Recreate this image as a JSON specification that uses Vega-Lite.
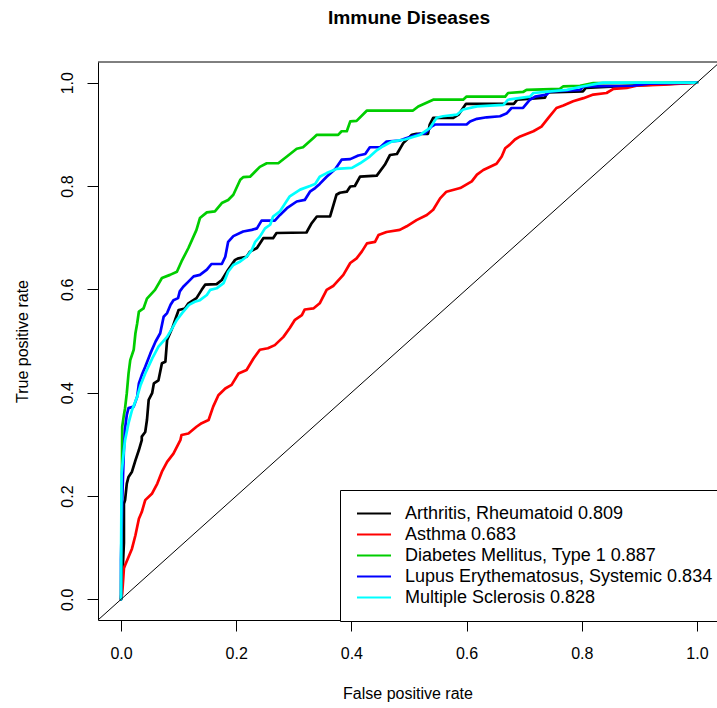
{
  "$schema": "https://vega.github.io/schema/vega-lite/v6.json",
  "autosize": {"type": "none"},
  "width": 619,
  "height": 558,
  "padding": {"left": 98, "top": 62, "right": 0, "bottom": 88},
  "background": "white",
  "config": {
    "view": {"stroke": null},
    "font": "Liberation Sans"
  },
  "title": {"text": "Immune Diseases", "fontSize": 19.2, "fontWeight": "bold", "font": "Liberation Sans", "color": "black", "anchor": "middle", "offset": 33, "dx": 1.5},
  "layer": [
    {
      "data": {"values": [
        {"disease":"Arthritis, Rheumatoid 0.809","fpr":0,"tpr":0},{"disease":"Arthritis, Rheumatoid 0.809","fpr":0.002,"tpr":0.037},{"disease":"Arthritis, Rheumatoid 0.809","fpr":0.005,"tpr":0.109},{"disease":"Arthritis, Rheumatoid 0.809","fpr":0.005,"tpr":0.185},{"disease":"Arthritis, Rheumatoid 0.809","fpr":0.007,"tpr":0.192},{"disease":"Arthritis, Rheumatoid 0.809","fpr":0.010,"tpr":0.224},{"disease":"Arthritis, Rheumatoid 0.809","fpr":0.013,"tpr":0.237},{"disease":"Arthritis, Rheumatoid 0.809","fpr":0.019,"tpr":0.247},{"disease":"Arthritis, Rheumatoid 0.809","fpr":0.025,"tpr":0.269},{"disease":"Arthritis, Rheumatoid 0.809","fpr":0.031,"tpr":0.289},{"disease":"Arthritis, Rheumatoid 0.809","fpr":0.036,"tpr":0.308},{"disease":"Arthritis, Rheumatoid 0.809","fpr":0.036,"tpr":0.315},{"disease":"Arthritis, Rheumatoid 0.809","fpr":0.042,"tpr":0.324},{"disease":"Arthritis, Rheumatoid 0.809","fpr":0.045,"tpr":0.347},{"disease":"Arthritis, Rheumatoid 0.809","fpr":0.048,"tpr":0.386},{"disease":"Arthritis, Rheumatoid 0.809","fpr":0.054,"tpr":0.399},{"disease":"Arthritis, Rheumatoid 0.809","fpr":0.057,"tpr":0.418},{"disease":"Arthritis, Rheumatoid 0.809","fpr":0.065,"tpr":0.424},{"disease":"Arthritis, Rheumatoid 0.809","fpr":0.071,"tpr":0.457},{"disease":"Arthritis, Rheumatoid 0.809","fpr":0.077,"tpr":0.460},{"disease":"Arthritis, Rheumatoid 0.809","fpr":0.080,"tpr":0.502},{"disease":"Arthritis, Rheumatoid 0.809","fpr":0.089,"tpr":0.525},{"disease":"Arthritis, Rheumatoid 0.809","fpr":0.094,"tpr":0.541},{"disease":"Arthritis, Rheumatoid 0.809","fpr":0.100,"tpr":0.560},{"disease":"Arthritis, Rheumatoid 0.809","fpr":0.111,"tpr":0.563},{"disease":"Arthritis, Rheumatoid 0.809","fpr":0.117,"tpr":0.573},{"disease":"Arthritis, Rheumatoid 0.809","fpr":0.131,"tpr":0.583},{"disease":"Arthritis, Rheumatoid 0.809","fpr":0.140,"tpr":0.599},{"disease":"Arthritis, Rheumatoid 0.809","fpr":0.146,"tpr":0.609},{"disease":"Arthritis, Rheumatoid 0.809","fpr":0.166,"tpr":0.610},{"disease":"Arthritis, Rheumatoid 0.809","fpr":0.175,"tpr":0.618},{"disease":"Arthritis, Rheumatoid 0.809","fpr":0.186,"tpr":0.638},{"disease":"Arthritis, Rheumatoid 0.809","fpr":0.198,"tpr":0.657},{"disease":"Arthritis, Rheumatoid 0.809","fpr":0.204,"tpr":0.660},{"disease":"Arthritis, Rheumatoid 0.809","fpr":0.218,"tpr":0.663},{"disease":"Arthritis, Rheumatoid 0.809","fpr":0.224,"tpr":0.673},{"disease":"Arthritis, Rheumatoid 0.809","fpr":0.236,"tpr":0.680},{"disease":"Arthritis, Rheumatoid 0.809","fpr":0.247,"tpr":0.699},{"disease":"Arthritis, Rheumatoid 0.809","fpr":0.264,"tpr":0.699},{"disease":"Arthritis, Rheumatoid 0.809","fpr":0.270,"tpr":0.709},{"disease":"Arthritis, Rheumatoid 0.809","fpr":0.322,"tpr":0.710},{"disease":"Arthritis, Rheumatoid 0.809","fpr":0.331,"tpr":0.728},{"disease":"Arthritis, Rheumatoid 0.809","fpr":0.340,"tpr":0.741},{"disease":"Arthritis, Rheumatoid 0.809","fpr":0.363,"tpr":0.741},{"disease":"Arthritis, Rheumatoid 0.809","fpr":0.374,"tpr":0.783},{"disease":"Arthritis, Rheumatoid 0.809","fpr":0.380,"tpr":0.787},{"disease":"Arthritis, Rheumatoid 0.809","fpr":0.392,"tpr":0.789},{"disease":"Arthritis, Rheumatoid 0.809","fpr":0.398,"tpr":0.799},{"disease":"Arthritis, Rheumatoid 0.809","fpr":0.406,"tpr":0.800},{"disease":"Arthritis, Rheumatoid 0.809","fpr":0.415,"tpr":0.818},{"disease":"Arthritis, Rheumatoid 0.809","fpr":0.444,"tpr":0.820},{"disease":"Arthritis, Rheumatoid 0.809","fpr":0.458,"tpr":0.841},{"disease":"Arthritis, Rheumatoid 0.809","fpr":0.467,"tpr":0.860},{"disease":"Arthritis, Rheumatoid 0.809","fpr":0.479,"tpr":0.862},{"disease":"Arthritis, Rheumatoid 0.809","fpr":0.490,"tpr":0.883},{"disease":"Arthritis, Rheumatoid 0.809","fpr":0.505,"tpr":0.899},{"disease":"Arthritis, Rheumatoid 0.809","fpr":0.513,"tpr":0.901},{"disease":"Arthritis, Rheumatoid 0.809","fpr":0.533,"tpr":0.901},{"disease":"Arthritis, Rheumatoid 0.809","fpr":0.536,"tpr":0.919},{"disease":"Arthritis, Rheumatoid 0.809","fpr":0.542,"tpr":0.932},{"disease":"Arthritis, Rheumatoid 0.809","fpr":0.577,"tpr":0.932},{"disease":"Arthritis, Rheumatoid 0.809","fpr":0.586,"tpr":0.938},{"disease":"Arthritis, Rheumatoid 0.809","fpr":0.599,"tpr":0.959},{"disease":"Arthritis, Rheumatoid 0.809","fpr":0.682,"tpr":0.959},{"disease":"Arthritis, Rheumatoid 0.809","fpr":0.688,"tpr":0.967},{"disease":"Arthritis, Rheumatoid 0.809","fpr":0.736,"tpr":0.971},{"disease":"Arthritis, Rheumatoid 0.809","fpr":0.740,"tpr":0.981},{"disease":"Arthritis, Rheumatoid 0.809","fpr":0.802,"tpr":0.983},{"disease":"Arthritis, Rheumatoid 0.809","fpr":0.807,"tpr":0.990},{"disease":"Arthritis, Rheumatoid 0.809","fpr":0.884,"tpr":0.994},{"disease":"Arthritis, Rheumatoid 0.809","fpr":1,"tpr":1},
        {"disease":"Asthma 0.683","fpr":0,"tpr":0},{"disease":"Asthma 0.683","fpr":0.002,"tpr":0.011},{"disease":"Asthma 0.683","fpr":0.004,"tpr":0.043},{"disease":"Asthma 0.683","fpr":0.005,"tpr":0.060},{"disease":"Asthma 0.683","fpr":0.007,"tpr":0.066},{"disease":"Asthma 0.683","fpr":0.013,"tpr":0.082},{"disease":"Asthma 0.683","fpr":0.019,"tpr":0.098},{"disease":"Asthma 0.683","fpr":0.025,"tpr":0.124},{"disease":"Asthma 0.683","fpr":0.031,"tpr":0.156},{"disease":"Asthma 0.683","fpr":0.036,"tpr":0.169},{"disease":"Asthma 0.683","fpr":0.042,"tpr":0.192},{"disease":"Asthma 0.683","fpr":0.054,"tpr":0.205},{"disease":"Asthma 0.683","fpr":0.063,"tpr":0.224},{"disease":"Asthma 0.683","fpr":0.071,"tpr":0.247},{"disease":"Asthma 0.683","fpr":0.080,"tpr":0.266},{"disease":"Asthma 0.683","fpr":0.091,"tpr":0.282},{"disease":"Asthma 0.683","fpr":0.103,"tpr":0.308},{"disease":"Asthma 0.683","fpr":0.105,"tpr":0.318},{"disease":"Asthma 0.683","fpr":0.117,"tpr":0.321},{"disease":"Asthma 0.683","fpr":0.131,"tpr":0.334},{"disease":"Asthma 0.683","fpr":0.140,"tpr":0.341},{"disease":"Asthma 0.683","fpr":0.152,"tpr":0.347},{"disease":"Asthma 0.683","fpr":0.160,"tpr":0.373},{"disease":"Asthma 0.683","fpr":0.169,"tpr":0.395},{"disease":"Asthma 0.683","fpr":0.181,"tpr":0.408},{"disease":"Asthma 0.683","fpr":0.192,"tpr":0.415},{"disease":"Asthma 0.683","fpr":0.204,"tpr":0.437},{"disease":"Asthma 0.683","fpr":0.218,"tpr":0.444},{"disease":"Asthma 0.683","fpr":0.230,"tpr":0.466},{"disease":"Asthma 0.683","fpr":0.241,"tpr":0.483},{"disease":"Asthma 0.683","fpr":0.255,"tpr":0.486},{"disease":"Asthma 0.683","fpr":0.267,"tpr":0.492},{"disease":"Asthma 0.683","fpr":0.282,"tpr":0.508},{"disease":"Asthma 0.683","fpr":0.293,"tpr":0.525},{"disease":"Asthma 0.683","fpr":0.302,"tpr":0.541},{"disease":"Asthma 0.683","fpr":0.314,"tpr":0.550},{"disease":"Asthma 0.683","fpr":0.319,"tpr":0.561},{"disease":"Asthma 0.683","fpr":0.334,"tpr":0.563},{"disease":"Asthma 0.683","fpr":0.345,"tpr":0.573},{"disease":"Asthma 0.683","fpr":0.357,"tpr":0.599},{"disease":"Asthma 0.683","fpr":0.369,"tpr":0.607},{"disease":"Asthma 0.683","fpr":0.386,"tpr":0.628},{"disease":"Asthma 0.683","fpr":0.398,"tpr":0.651},{"disease":"Asthma 0.683","fpr":0.409,"tpr":0.660},{"disease":"Asthma 0.683","fpr":0.418,"tpr":0.673},{"disease":"Asthma 0.683","fpr":0.427,"tpr":0.689},{"disease":"Asthma 0.683","fpr":0.441,"tpr":0.692},{"disease":"Asthma 0.683","fpr":0.447,"tpr":0.705},{"disease":"Asthma 0.683","fpr":0.461,"tpr":0.711},{"disease":"Asthma 0.683","fpr":0.484,"tpr":0.715},{"disease":"Asthma 0.683","fpr":0.496,"tpr":0.722},{"disease":"Asthma 0.683","fpr":0.513,"tpr":0.734},{"disease":"Asthma 0.683","fpr":0.531,"tpr":0.744},{"disease":"Asthma 0.683","fpr":0.542,"tpr":0.754},{"disease":"Asthma 0.683","fpr":0.554,"tpr":0.776},{"disease":"Asthma 0.683","fpr":0.565,"tpr":0.789},{"disease":"Asthma 0.683","fpr":0.589,"tpr":0.796},{"disease":"Asthma 0.683","fpr":0.609,"tpr":0.809},{"disease":"Asthma 0.683","fpr":0.618,"tpr":0.822},{"disease":"Asthma 0.683","fpr":0.629,"tpr":0.831},{"disease":"Asthma 0.683","fpr":0.652,"tpr":0.843},{"disease":"Asthma 0.683","fpr":0.661,"tpr":0.857},{"disease":"Asthma 0.683","fpr":0.667,"tpr":0.873},{"disease":"Asthma 0.683","fpr":0.675,"tpr":0.880},{"disease":"Asthma 0.683","fpr":0.684,"tpr":0.890},{"disease":"Asthma 0.683","fpr":0.693,"tpr":0.896},{"disease":"Asthma 0.683","fpr":0.716,"tpr":0.906},{"disease":"Asthma 0.683","fpr":0.730,"tpr":0.915},{"disease":"Asthma 0.683","fpr":0.742,"tpr":0.932},{"disease":"Asthma 0.683","fpr":0.756,"tpr":0.951},{"disease":"Asthma 0.683","fpr":0.768,"tpr":0.956},{"disease":"Asthma 0.683","fpr":0.785,"tpr":0.964},{"disease":"Asthma 0.683","fpr":0.803,"tpr":0.970},{"disease":"Asthma 0.683","fpr":0.820,"tpr":0.977},{"disease":"Asthma 0.683","fpr":0.843,"tpr":0.980},{"disease":"Asthma 0.683","fpr":0.855,"tpr":0.988},{"disease":"Asthma 0.683","fpr":0.878,"tpr":0.990},{"disease":"Asthma 0.683","fpr":0.895,"tpr":0.994},{"disease":"Asthma 0.683","fpr":0.942,"tpr":0.996},{"disease":"Asthma 0.683","fpr":1,"tpr":1},
        {"disease":"Diabetes Mellitus, Type 1 0.887","fpr":0,"tpr":0},{"disease":"Diabetes Mellitus, Type 1 0.887","fpr":0.001,"tpr":0.114},{"disease":"Diabetes Mellitus, Type 1 0.887","fpr":0.002,"tpr":0.334},{"disease":"Diabetes Mellitus, Type 1 0.887","fpr":0.005,"tpr":0.357},{"disease":"Diabetes Mellitus, Type 1 0.887","fpr":0.007,"tpr":0.370},{"disease":"Diabetes Mellitus, Type 1 0.887","fpr":0.010,"tpr":0.399},{"disease":"Diabetes Mellitus, Type 1 0.887","fpr":0.013,"tpr":0.437},{"disease":"Diabetes Mellitus, Type 1 0.887","fpr":0.016,"tpr":0.463},{"disease":"Diabetes Mellitus, Type 1 0.887","fpr":0.022,"tpr":0.483},{"disease":"Diabetes Mellitus, Type 1 0.887","fpr":0.025,"tpr":0.515},{"disease":"Diabetes Mellitus, Type 1 0.887","fpr":0.028,"tpr":0.534},{"disease":"Diabetes Mellitus, Type 1 0.887","fpr":0.031,"tpr":0.557},{"disease":"Diabetes Mellitus, Type 1 0.887","fpr":0.039,"tpr":0.563},{"disease":"Diabetes Mellitus, Type 1 0.887","fpr":0.045,"tpr":0.582},{"disease":"Diabetes Mellitus, Type 1 0.887","fpr":0.059,"tpr":0.599},{"disease":"Diabetes Mellitus, Type 1 0.887","fpr":0.071,"tpr":0.622},{"disease":"Diabetes Mellitus, Type 1 0.887","fpr":0.085,"tpr":0.628},{"disease":"Diabetes Mellitus, Type 1 0.887","fpr":0.097,"tpr":0.634},{"disease":"Diabetes Mellitus, Type 1 0.887","fpr":0.105,"tpr":0.654},{"disease":"Diabetes Mellitus, Type 1 0.887","fpr":0.117,"tpr":0.680},{"disease":"Diabetes Mellitus, Type 1 0.887","fpr":0.131,"tpr":0.715},{"disease":"Diabetes Mellitus, Type 1 0.887","fpr":0.137,"tpr":0.738},{"disease":"Diabetes Mellitus, Type 1 0.887","fpr":0.149,"tpr":0.749},{"disease":"Diabetes Mellitus, Type 1 0.887","fpr":0.163,"tpr":0.751},{"disease":"Diabetes Mellitus, Type 1 0.887","fpr":0.175,"tpr":0.767},{"disease":"Diabetes Mellitus, Type 1 0.887","fpr":0.186,"tpr":0.773},{"disease":"Diabetes Mellitus, Type 1 0.887","fpr":0.195,"tpr":0.783},{"disease":"Diabetes Mellitus, Type 1 0.887","fpr":0.207,"tpr":0.812},{"disease":"Diabetes Mellitus, Type 1 0.887","fpr":0.212,"tpr":0.817},{"disease":"Diabetes Mellitus, Type 1 0.887","fpr":0.224,"tpr":0.818},{"disease":"Diabetes Mellitus, Type 1 0.887","fpr":0.241,"tpr":0.837},{"disease":"Diabetes Mellitus, Type 1 0.887","fpr":0.253,"tpr":0.844},{"disease":"Diabetes Mellitus, Type 1 0.887","fpr":0.273,"tpr":0.844},{"disease":"Diabetes Mellitus, Type 1 0.887","fpr":0.288,"tpr":0.857},{"disease":"Diabetes Mellitus, Type 1 0.887","fpr":0.305,"tpr":0.872},{"disease":"Diabetes Mellitus, Type 1 0.887","fpr":0.316,"tpr":0.875},{"disease":"Diabetes Mellitus, Type 1 0.887","fpr":0.334,"tpr":0.893},{"disease":"Diabetes Mellitus, Type 1 0.887","fpr":0.340,"tpr":0.899},{"disease":"Diabetes Mellitus, Type 1 0.887","fpr":0.377,"tpr":0.899},{"disease":"Diabetes Mellitus, Type 1 0.887","fpr":0.383,"tpr":0.906},{"disease":"Diabetes Mellitus, Type 1 0.887","fpr":0.392,"tpr":0.906},{"disease":"Diabetes Mellitus, Type 1 0.887","fpr":0.398,"tpr":0.925},{"disease":"Diabetes Mellitus, Type 1 0.887","fpr":0.409,"tpr":0.926},{"disease":"Diabetes Mellitus, Type 1 0.887","fpr":0.427,"tpr":0.946},{"disease":"Diabetes Mellitus, Type 1 0.887","fpr":0.507,"tpr":0.946},{"disease":"Diabetes Mellitus, Type 1 0.887","fpr":0.516,"tpr":0.954},{"disease":"Diabetes Mellitus, Type 1 0.887","fpr":0.542,"tpr":0.967},{"disease":"Diabetes Mellitus, Type 1 0.887","fpr":0.594,"tpr":0.967},{"disease":"Diabetes Mellitus, Type 1 0.887","fpr":0.600,"tpr":0.973},{"disease":"Diabetes Mellitus, Type 1 0.887","fpr":0.667,"tpr":0.973},{"disease":"Diabetes Mellitus, Type 1 0.887","fpr":0.672,"tpr":0.980},{"disease":"Diabetes Mellitus, Type 1 0.887","fpr":0.698,"tpr":0.982},{"disease":"Diabetes Mellitus, Type 1 0.887","fpr":0.704,"tpr":0.986},{"disease":"Diabetes Mellitus, Type 1 0.887","fpr":0.762,"tpr":0.988},{"disease":"Diabetes Mellitus, Type 1 0.887","fpr":0.768,"tpr":0.993},{"disease":"Diabetes Mellitus, Type 1 0.887","fpr":0.797,"tpr":0.994},{"disease":"Diabetes Mellitus, Type 1 0.887","fpr":0.820,"tpr":0.999},{"disease":"Diabetes Mellitus, Type 1 0.887","fpr":1,"tpr":1},
        {"disease":"Lupus Erythematosus, Systemic 0.834","fpr":0,"tpr":0},{"disease":"Lupus Erythematosus, Systemic 0.834","fpr":0,"tpr":0.076},{"disease":"Lupus Erythematosus, Systemic 0.834","fpr":0.002,"tpr":0.192},{"disease":"Lupus Erythematosus, Systemic 0.834","fpr":0.005,"tpr":0.289},{"disease":"Lupus Erythematosus, Systemic 0.834","fpr":0.007,"tpr":0.331},{"disease":"Lupus Erythematosus, Systemic 0.834","fpr":0.010,"tpr":0.357},{"disease":"Lupus Erythematosus, Systemic 0.834","fpr":0.013,"tpr":0.370},{"disease":"Lupus Erythematosus, Systemic 0.834","fpr":0.022,"tpr":0.373},{"disease":"Lupus Erythematosus, Systemic 0.834","fpr":0.028,"tpr":0.392},{"disease":"Lupus Erythematosus, Systemic 0.834","fpr":0.031,"tpr":0.418},{"disease":"Lupus Erythematosus, Systemic 0.834","fpr":0.036,"tpr":0.434},{"disease":"Lupus Erythematosus, Systemic 0.834","fpr":0.042,"tpr":0.450},{"disease":"Lupus Erythematosus, Systemic 0.834","fpr":0.051,"tpr":0.476},{"disease":"Lupus Erythematosus, Systemic 0.834","fpr":0.060,"tpr":0.499},{"disease":"Lupus Erythematosus, Systemic 0.834","fpr":0.068,"tpr":0.515},{"disease":"Lupus Erythematosus, Systemic 0.834","fpr":0.074,"tpr":0.547},{"disease":"Lupus Erythematosus, Systemic 0.834","fpr":0.080,"tpr":0.554},{"disease":"Lupus Erythematosus, Systemic 0.834","fpr":0.086,"tpr":0.570},{"disease":"Lupus Erythematosus, Systemic 0.834","fpr":0.091,"tpr":0.579},{"disease":"Lupus Erythematosus, Systemic 0.834","fpr":0.099,"tpr":0.583},{"disease":"Lupus Erythematosus, Systemic 0.834","fpr":0.102,"tpr":0.596},{"disease":"Lupus Erythematosus, Systemic 0.834","fpr":0.108,"tpr":0.605},{"disease":"Lupus Erythematosus, Systemic 0.834","fpr":0.117,"tpr":0.615},{"disease":"Lupus Erythematosus, Systemic 0.834","fpr":0.126,"tpr":0.625},{"disease":"Lupus Erythematosus, Systemic 0.834","fpr":0.137,"tpr":0.628},{"disease":"Lupus Erythematosus, Systemic 0.834","fpr":0.149,"tpr":0.638},{"disease":"Lupus Erythematosus, Systemic 0.834","fpr":0.157,"tpr":0.649},{"disease":"Lupus Erythematosus, Systemic 0.834","fpr":0.175,"tpr":0.649},{"disease":"Lupus Erythematosus, Systemic 0.834","fpr":0.181,"tpr":0.663},{"disease":"Lupus Erythematosus, Systemic 0.834","fpr":0.186,"tpr":0.692},{"disease":"Lupus Erythematosus, Systemic 0.834","fpr":0.195,"tpr":0.703},{"disease":"Lupus Erythematosus, Systemic 0.834","fpr":0.212,"tpr":0.712},{"disease":"Lupus Erythematosus, Systemic 0.834","fpr":0.227,"tpr":0.715},{"disease":"Lupus Erythematosus, Systemic 0.834","fpr":0.236,"tpr":0.718},{"disease":"Lupus Erythematosus, Systemic 0.834","fpr":0.244,"tpr":0.733},{"disease":"Lupus Erythematosus, Systemic 0.834","fpr":0.267,"tpr":0.733},{"disease":"Lupus Erythematosus, Systemic 0.834","fpr":0.276,"tpr":0.744},{"disease":"Lupus Erythematosus, Systemic 0.834","fpr":0.288,"tpr":0.757},{"disease":"Lupus Erythematosus, Systemic 0.834","fpr":0.305,"tpr":0.770},{"disease":"Lupus Erythematosus, Systemic 0.834","fpr":0.319,"tpr":0.773},{"disease":"Lupus Erythematosus, Systemic 0.834","fpr":0.328,"tpr":0.789},{"disease":"Lupus Erythematosus, Systemic 0.834","fpr":0.337,"tpr":0.796},{"disease":"Lupus Erythematosus, Systemic 0.834","fpr":0.345,"tpr":0.804},{"disease":"Lupus Erythematosus, Systemic 0.834","fpr":0.357,"tpr":0.818},{"disease":"Lupus Erythematosus, Systemic 0.834","fpr":0.372,"tpr":0.833},{"disease":"Lupus Erythematosus, Systemic 0.834","fpr":0.383,"tpr":0.851},{"disease":"Lupus Erythematosus, Systemic 0.834","fpr":0.398,"tpr":0.852},{"disease":"Lupus Erythematosus, Systemic 0.834","fpr":0.412,"tpr":0.859},{"disease":"Lupus Erythematosus, Systemic 0.834","fpr":0.424,"tpr":0.862},{"disease":"Lupus Erythematosus, Systemic 0.834","fpr":0.432,"tpr":0.875},{"disease":"Lupus Erythematosus, Systemic 0.834","fpr":0.450,"tpr":0.875},{"disease":"Lupus Erythematosus, Systemic 0.834","fpr":0.461,"tpr":0.886},{"disease":"Lupus Erythematosus, Systemic 0.834","fpr":0.484,"tpr":0.888},{"disease":"Lupus Erythematosus, Systemic 0.834","fpr":0.496,"tpr":0.893},{"disease":"Lupus Erythematosus, Systemic 0.834","fpr":0.519,"tpr":0.901},{"disease":"Lupus Erythematosus, Systemic 0.834","fpr":0.528,"tpr":0.902},{"disease":"Lupus Erythematosus, Systemic 0.834","fpr":0.539,"tpr":0.915},{"disease":"Lupus Erythematosus, Systemic 0.834","fpr":0.545,"tpr":0.919},{"disease":"Lupus Erythematosus, Systemic 0.834","fpr":0.600,"tpr":0.919},{"disease":"Lupus Erythematosus, Systemic 0.834","fpr":0.606,"tpr":0.925},{"disease":"Lupus Erythematosus, Systemic 0.834","fpr":0.618,"tpr":0.930},{"disease":"Lupus Erythematosus, Systemic 0.834","fpr":0.635,"tpr":0.933},{"disease":"Lupus Erythematosus, Systemic 0.834","fpr":0.658,"tpr":0.935},{"disease":"Lupus Erythematosus, Systemic 0.834","fpr":0.670,"tpr":0.941},{"disease":"Lupus Erythematosus, Systemic 0.834","fpr":0.678,"tpr":0.951},{"disease":"Lupus Erythematosus, Systemic 0.834","fpr":0.698,"tpr":0.951},{"disease":"Lupus Erythematosus, Systemic 0.834","fpr":0.710,"tpr":0.967},{"disease":"Lupus Erythematosus, Systemic 0.834","fpr":0.719,"tpr":0.973},{"disease":"Lupus Erythematosus, Systemic 0.834","fpr":0.739,"tpr":0.977},{"disease":"Lupus Erythematosus, Systemic 0.834","fpr":0.745,"tpr":0.983},{"disease":"Lupus Erythematosus, Systemic 0.834","fpr":0.797,"tpr":0.986},{"disease":"Lupus Erythematosus, Systemic 0.834","fpr":0.803,"tpr":0.993},{"disease":"Lupus Erythematosus, Systemic 0.834","fpr":0.889,"tpr":0.994},{"disease":"Lupus Erythematosus, Systemic 0.834","fpr":0.918,"tpr":0.998},{"disease":"Lupus Erythematosus, Systemic 0.834","fpr":1,"tpr":1},
        {"disease":"Multiple Sclerosis 0.828","fpr":0,"tpr":0},{"disease":"Multiple Sclerosis 0.828","fpr":0,"tpr":0.076},{"disease":"Multiple Sclerosis 0.828","fpr":0.001,"tpr":0.244},{"disease":"Multiple Sclerosis 0.828","fpr":0.005,"tpr":0.289},{"disease":"Multiple Sclerosis 0.828","fpr":0.007,"tpr":0.308},{"disease":"Multiple Sclerosis 0.828","fpr":0.013,"tpr":0.341},{"disease":"Multiple Sclerosis 0.828","fpr":0.019,"tpr":0.366},{"disease":"Multiple Sclerosis 0.828","fpr":0.028,"tpr":0.392},{"disease":"Multiple Sclerosis 0.828","fpr":0.034,"tpr":0.415},{"disease":"Multiple Sclerosis 0.828","fpr":0.042,"tpr":0.437},{"disease":"Multiple Sclerosis 0.828","fpr":0.054,"tpr":0.466},{"disease":"Multiple Sclerosis 0.828","fpr":0.065,"tpr":0.489},{"disease":"Multiple Sclerosis 0.828","fpr":0.080,"tpr":0.508},{"disease":"Multiple Sclerosis 0.828","fpr":0.089,"tpr":0.525},{"disease":"Multiple Sclerosis 0.828","fpr":0.097,"tpr":0.541},{"disease":"Multiple Sclerosis 0.828","fpr":0.106,"tpr":0.554},{"disease":"Multiple Sclerosis 0.828","fpr":0.118,"tpr":0.570},{"disease":"Multiple Sclerosis 0.828","fpr":0.128,"tpr":0.576},{"disease":"Multiple Sclerosis 0.828","fpr":0.137,"tpr":0.579},{"disease":"Multiple Sclerosis 0.828","fpr":0.149,"tpr":0.589},{"disease":"Multiple Sclerosis 0.828","fpr":0.155,"tpr":0.599},{"disease":"Multiple Sclerosis 0.828","fpr":0.166,"tpr":0.602},{"disease":"Multiple Sclerosis 0.828","fpr":0.178,"tpr":0.612},{"disease":"Multiple Sclerosis 0.828","fpr":0.186,"tpr":0.634},{"disease":"Multiple Sclerosis 0.828","fpr":0.195,"tpr":0.647},{"disease":"Multiple Sclerosis 0.828","fpr":0.207,"tpr":0.654},{"disease":"Multiple Sclerosis 0.828","fpr":0.218,"tpr":0.663},{"disease":"Multiple Sclerosis 0.828","fpr":0.227,"tpr":0.676},{"disease":"Multiple Sclerosis 0.828","fpr":0.233,"tpr":0.692},{"disease":"Multiple Sclerosis 0.828","fpr":0.241,"tpr":0.702},{"disease":"Multiple Sclerosis 0.828","fpr":0.250,"tpr":0.718},{"disease":"Multiple Sclerosis 0.828","fpr":0.259,"tpr":0.725},{"disease":"Multiple Sclerosis 0.828","fpr":0.264,"tpr":0.741},{"disease":"Multiple Sclerosis 0.828","fpr":0.276,"tpr":0.751},{"disease":"Multiple Sclerosis 0.828","fpr":0.293,"tpr":0.780},{"disease":"Multiple Sclerosis 0.828","fpr":0.311,"tpr":0.793},{"disease":"Multiple Sclerosis 0.828","fpr":0.328,"tpr":0.800},{"disease":"Multiple Sclerosis 0.828","fpr":0.337,"tpr":0.804},{"disease":"Multiple Sclerosis 0.828","fpr":0.345,"tpr":0.818},{"disease":"Multiple Sclerosis 0.828","fpr":0.357,"tpr":0.825},{"disease":"Multiple Sclerosis 0.828","fpr":0.374,"tpr":0.833},{"disease":"Multiple Sclerosis 0.828","fpr":0.401,"tpr":0.835},{"disease":"Multiple Sclerosis 0.828","fpr":0.415,"tpr":0.844},{"disease":"Multiple Sclerosis 0.828","fpr":0.432,"tpr":0.857},{"disease":"Multiple Sclerosis 0.828","fpr":0.444,"tpr":0.869},{"disease":"Multiple Sclerosis 0.828","fpr":0.455,"tpr":0.877},{"disease":"Multiple Sclerosis 0.828","fpr":0.470,"tpr":0.886},{"disease":"Multiple Sclerosis 0.828","fpr":0.493,"tpr":0.890},{"disease":"Multiple Sclerosis 0.828","fpr":0.507,"tpr":0.895},{"disease":"Multiple Sclerosis 0.828","fpr":0.519,"tpr":0.899},{"disease":"Multiple Sclerosis 0.828","fpr":0.536,"tpr":0.912},{"disease":"Multiple Sclerosis 0.828","fpr":0.548,"tpr":0.932},{"disease":"Multiple Sclerosis 0.828","fpr":0.559,"tpr":0.935},{"disease":"Multiple Sclerosis 0.828","fpr":0.583,"tpr":0.938},{"disease":"Multiple Sclerosis 0.828","fpr":0.594,"tpr":0.948},{"disease":"Multiple Sclerosis 0.828","fpr":0.618,"tpr":0.954},{"disease":"Multiple Sclerosis 0.828","fpr":0.664,"tpr":0.957},{"disease":"Multiple Sclerosis 0.828","fpr":0.672,"tpr":0.967},{"disease":"Multiple Sclerosis 0.828","fpr":0.710,"tpr":0.973},{"disease":"Multiple Sclerosis 0.828","fpr":0.716,"tpr":0.980},{"disease":"Multiple Sclerosis 0.828","fpr":0.774,"tpr":0.986},{"disease":"Multiple Sclerosis 0.828","fpr":0.803,"tpr":0.993},{"disease":"Multiple Sclerosis 0.828","fpr":0.837,"tpr":1.0},{"disease":"Multiple Sclerosis 0.828","fpr":1,"tpr":1}
      ]},
      "mark": {"type": "line", "strokeWidth": 2.7, "strokeJoin": "round", "strokeCap": "round"},
      "encoding": {
        "x": {"field": "fpr", "type": "quantitative",
          "scale": {"domain": [-0.04, 1.0348], "nice": false, "zero": false},
          "axis": {"title": "False positive rate", "values": [0, 0.2, 0.4, 0.6, 0.8, 1], "format": ".1f", "grid": false,
            "domainColor": "black", "domainWidth": 1, "tickColor": "black", "tickWidth": 1, "tickSize": 11,
            "labelFont": "Liberation Sans", "labelFontSize": 16, "labelColor": "black", "labelPadding": 14, "labelFlush": false, "labelOverlap": false,
            "titleFont": "Liberation Sans", "titleFontSize": 16, "titleFontWeight": "normal", "titleColor": "black", "titlePadding": 24}},
        "y": {"field": "tpr", "type": "quantitative",
          "scale": {"domain": [-0.04, 1.04], "nice": false, "zero": false},
          "axis": {"title": "True positive rate", "values": [0, 0.2, 0.4, 0.6, 0.8, 1], "format": ".1f", "grid": false,
            "domainColor": "black", "domainWidth": 1, "tickColor": "black", "tickWidth": 1, "tickSize": 11,
            "labelFont": "Liberation Sans", "labelFontSize": 16, "labelColor": "black", "labelPadding": 12, "labelAngle": 270, "labelFlush": false, "labelOverlap": false,
            "titleFont": "Liberation Sans", "titleFontSize": 16, "titleFontWeight": "normal", "titleColor": "black", "titlePadding": 29}},
        "color": {"field": "disease", "type": "nominal",
          "scale": {"domain": ["Arthritis, Rheumatoid 0.809", "Asthma 0.683", "Diabetes Mellitus, Type 1 0.887", "Lupus Erythematosus, Systemic 0.834", "Multiple Sclerosis 0.828"],
                    "range": ["#000000", "#FF0000", "#00CD00", "#0000FF", "#00FFFF"]},
          "legend": {"title": null, "orient": "none", "legendX": 242, "legendY": 428, "direction": "vertical",
            "symbolType": "M-2.5,0H2.5", "symbolSize": 185, "symbolStrokeWidth": 2, "symbolOffset": 10.5,
            "labelFont": "Liberation Sans", "labelFontSize": 18, "labelColor": "black", "labelLimit": 500, "labelOffset": 22,
            "padding": 14.5, "rowPadding": 3, "strokeColor": "black", "fillColor": "white", "cornerRadius": 0}},
        "order": {"value": null}
      }
    },
    {
      "data": {"values": [{"fpr": -0.04, "tpr": -0.04}, {"fpr": 1.04, "tpr": 1.04}]},
      "mark": {"type": "line", "color": "black", "strokeWidth": 1, "clip": true},
      "encoding": {"x": {"field": "fpr", "type": "quantitative"}, "y": {"field": "tpr", "type": "quantitative"}}
    },
    {
      "data": {"values": [{}]},
      "mark": {"type": "rule", "color": "black", "strokeWidth": 1},
      "encoding": {"y": {"datum": 1.04}}
    }
  ]
}
